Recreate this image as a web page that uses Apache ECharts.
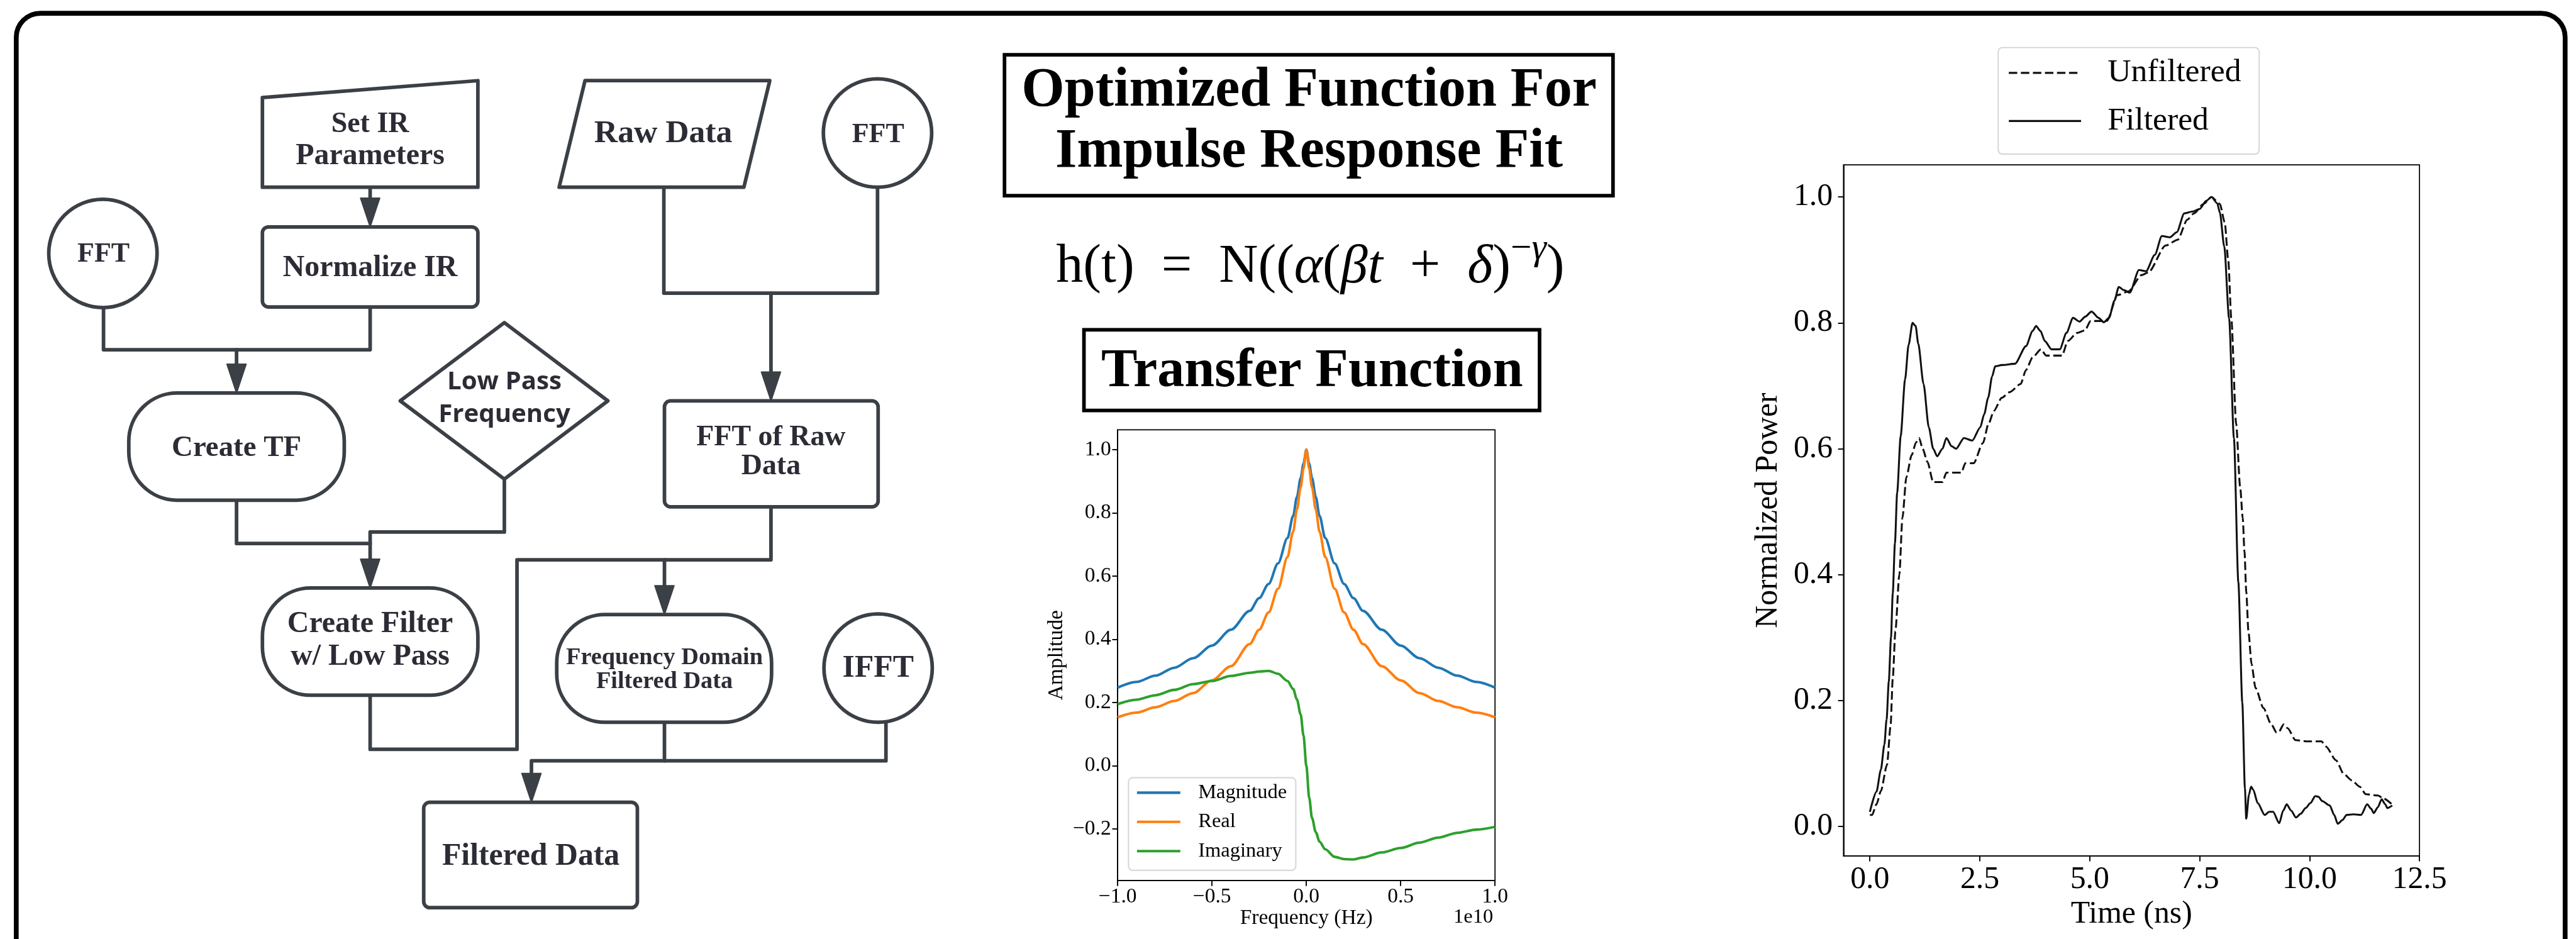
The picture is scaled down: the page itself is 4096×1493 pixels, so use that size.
<!DOCTYPE html>
<html>
<head>
<meta charset="utf-8">
<title>Impulse response fit pipeline</title>
<script src="https://cdn.jsdelivr.net/npm/echarts@6/dist/echarts.min.js"></script>
<style>
  html, body { margin: 0; padding: 0; background: #fff; }
  #chart { width: 4096px; height: 1493px; }
</style>
</head>
<body>
<div id="chart"></div>
<script>
// transfer function, frequency in units of 1e10 Hz
const freq = [-1, -0.9, -0.8, -0.7, -0.6, -0.5, -0.4, -0.3, -0.25, -0.2, -0.15, -0.1, -0.07, -0.05, -0.03, -0.015, 0,
  0.015, 0.03, 0.05, 0.07, 0.1, 0.15, 0.2, 0.25, 0.3, 0.4, 0.5, 0.6, 0.7, 0.8, 0.9, 1];
const magnitude = [0.247, 0.265, 0.285, 0.31, 0.34, 0.38, 0.43, 0.49, 0.53, 0.575, 0.64, 0.72, 0.79, 0.85, 0.91, 0.955, 1.0,
  0.955, 0.91, 0.85, 0.79, 0.72, 0.64, 0.575, 0.53, 0.49, 0.43, 0.38, 0.34, 0.31, 0.285, 0.265, 0.247];
const realPart = [0.153, 0.168, 0.185, 0.205, 0.23, 0.27, 0.315, 0.385, 0.43, 0.485, 0.56, 0.66, 0.74, 0.81, 0.88, 0.94, 1.0,
  0.94, 0.88, 0.81, 0.74, 0.66, 0.56, 0.485, 0.43, 0.385, 0.315, 0.27, 0.23, 0.205, 0.185, 0.168, 0.153];
const imagPart = [0.195, 0.209, 0.223, 0.24, 0.258, 0.268, 0.284, 0.294, 0.298, 0.3, 0.291, 0.268, 0.243, 0.21, 0.162, 0.095, 0,
  -0.1, -0.165, -0.21, -0.24, -0.264, -0.288, -0.295, -0.296, -0.29, -0.274, -0.26, -0.243, -0.227, -0.212, -0.202, -0.193];
const freqTicks = [-1, -0.5, 0, 0.5, 1];
const ampTicks = [-0.2, 0, 0.2, 0.4, 0.6, 0.8, 1.0];

// pulse, time in ns
const unfilteredT = [0, 0.05, 0.15, 0.25, 0.39, 0.47, 0.52, 0.58, 0.67, 0.74, 0.83, 0.95, 1.05, 1.12, 1.2, 1.31, 1.44, 1.65,
  1.74, 2.08, 2.17, 2.36, 2.57, 2.7, 2.82, 3.0, 3.18, 3.43, 3.55, 3.7, 3.89, 4.01, 4.37, 4.5, 4.71, 4.89, 5.02, 5.39, 5.63,
  5.88, 6.18, 6.33, 6.73, 7.0, 7.22, 7.37, 7.59, 7.77, 7.96, 8.07, 8.15, 8.22, 8.33, 8.42, 8.48, 8.52, 8.56, 8.61, 8.68,
  8.77, 8.95, 9.13, 9.25, 9.3, 9.41, 9.5, 9.68, 9.95, 10.27, 10.37, 10.6, 10.78, 10.96, 11.14, 11.28, 11.55, 11.69, 11.87];
const unfilteredP = [0.018, 0.018, 0.035, 0.056, 0.098, 0.159, 0.235, 0.31, 0.40, 0.49, 0.555, 0.59, 0.61, 0.617, 0.6, 0.579,
  0.547, 0.547, 0.562, 0.562, 0.577, 0.577, 0.609, 0.64, 0.66, 0.681, 0.69, 0.703, 0.725, 0.745, 0.758, 0.748, 0.748, 0.771,
  0.784, 0.788, 0.803, 0.803, 0.844, 0.85, 0.876, 0.88, 0.923, 0.932, 0.964, 0.974, 0.989, 1.0, 0.989, 0.96, 0.9, 0.807,
  0.64, 0.54, 0.49, 0.436, 0.373, 0.309, 0.258, 0.22, 0.188, 0.162, 0.149, 0.15, 0.162, 0.156, 0.137, 0.135, 0.135, 0.127,
  0.105, 0.083, 0.073, 0.063, 0.051, 0.049, 0.044, 0.035];
const filteredT = [0, 0.15, 0.25, 0.33, 0.38, 0.43, 0.48, 0.52, 0.57, 0.62, 0.7, 0.8, 0.88, 0.97, 1.04, 1.1, 1.22, 1.34,
  1.44, 1.53, 1.65, 1.74, 1.86, 1.96, 2.14, 2.33, 2.51, 2.6, 2.69, 2.78, 2.85, 3.0, 3.3, 3.55, 3.7, 3.78, 3.88, 3.98, 4.13,
  4.32, 4.47, 4.62, 4.77, 4.9, 5.04, 5.2, 5.32, 5.44, 5.56, 5.66, 5.78, 5.91, 6.12, 6.28, 6.48, 6.64, 6.82, 6.98, 7.15, 7.34,
  7.5, 7.65, 7.77, 7.9, 7.96, 8.06, 8.17, 8.28, 8.38, 8.47, 8.53, 8.56, 8.62, 8.67, 8.72, 8.82, 8.98, 9.08, 9.17, 9.31, 9.4,
  9.48, 9.58, 9.69, 9.8, 9.91, 10.02, 10.13, 10.2, 10.29, 10.46, 10.56, 10.64, 10.75, 10.84, 11.0, 11.17, 11.31, 11.4,
  11.46, 11.55, 11.64, 11.72, 11.77, 11.88];
const filteredP = [0.023, 0.055, 0.09, 0.13, 0.17, 0.23, 0.3, 0.37, 0.45, 0.53, 0.62, 0.71, 0.765, 0.8, 0.795, 0.767, 0.703,
  0.634, 0.6, 0.588, 0.6, 0.617, 0.604, 0.6, 0.617, 0.613, 0.634, 0.655, 0.681, 0.715, 0.731, 0.733, 0.735, 0.763, 0.787,
  0.795, 0.787, 0.771, 0.758, 0.758, 0.784, 0.808, 0.802, 0.81, 0.818, 0.808, 0.801, 0.808, 0.835, 0.857, 0.852, 0.848,
  0.884, 0.882, 0.908, 0.938, 0.936, 0.944, 0.974, 0.977, 0.981, 0.994, 1.0, 0.99, 0.975, 0.921, 0.807, 0.616, 0.388, 0.197,
  0.06, 0.012, 0.05, 0.063, 0.058, 0.037, 0.018, 0.023, 0.023, 0.005, 0.025, 0.035, 0.025, 0.014, 0.02, 0.029, 0.037,
  0.048, 0.047, 0.04, 0.033, 0.018, 0.004, 0.01, 0.018, 0.019, 0.018, 0.035, 0.028, 0.021, 0.03, 0.043, 0.035, 0.029, 0.033];
const timeTicks = [0, 2.5, 5, 7.5, 10, 12.5];
const powerTicks = [0, 0.2, 0.4, 0.6, 0.8, 1.0];

// everything below is laid out in reference pixels and scaled down
const K = 0.957;
const s = v => v * K;
const INK = '#3b4046';
const TXT = '#2b2c35';
const LW = s(6);
const SERIF = '"Liberation Serif", "Times New Roman", serif';
const SANS = 'bold SIZEpx "Open Sans", "Noto Sans", sans-serif';

function zip(xs, ys) { return xs.map((x, i) => [x, ys[i]]); }
function fmt1(v) { return (v < 0 ? '\u2212' : '') + Math.abs(v).toFixed(1); }

function box(x, y, w, h, r) {
  return { type: 'rect', shape: { x: s(x), y: s(y), width: s(w), height: s(h), r: s(r) },
    style: { fill: '#fff', stroke: INK, lineWidth: LW } };
}
function circ(cx, cy, r) {
  return { type: 'circle', shape: { cx: s(cx), cy: s(cy), r: s(r) }, style: { fill: '#fff', stroke: INK, lineWidth: LW } };
}
function poly(pts) {
  return { type: 'polygon', shape: { points: pts.map(p => [s(p[0]), s(p[1])]) },
    style: { fill: '#fff', stroke: INK, lineWidth: LW, lineJoin: 'round' } };
}
function wire(pts) {
  return { type: 'polyline', shape: { points: pts.map(p => [s(p[0]), s(p[1])]) },
    style: { fill: null, stroke: INK, lineWidth: LW, lineJoin: 'round', lineCap: 'round' } };
}
function arrow(x, tip) {
  return { type: 'polygon', shape: { points: [[s(x - 16), s(tip - 48)], [s(x + 16), s(tip - 48)], [s(x), s(tip)]] },
    style: { fill: INK, stroke: INK, lineWidth: s(2), lineJoin: 'round' } };
}
function label(text, x, y, size, font) {
  return { type: 'text', style: { text: text, x: s(x), y: s(y), textAlign: 'center', textVerticalAlign: 'middle',
    font: (font || ('bold SIZEpx ' + SERIF)).replace('SIZE', s(size)), fill: TXT } };
}
function plain(text, x, y, size) {
  return { type: 'text', style: { text: text, x: s(x), y: s(y), textAlign: 'center', textVerticalAlign: 'middle',
    font: 'bold ' + s(size) + 'px ' + SERIF, fill: '#000' } };
}

const flow = [
  // connectors first so the shapes cover their ends
  wire([[172, 510], [172, 581], [615, 581], [615, 510]]),
  wire([[393, 581], [393, 610]]), arrow(393, 653),
  wire([[615, 311], [615, 332]]), arrow(615, 377),
  wire([[393, 831], [393, 903], [615, 903]]),
  wire([[838, 796], [838, 884], [615, 884], [615, 932]]), arrow(615, 977),
  wire([[615, 1155], [615, 1245], [859, 1245], [859, 930], [1104, 930]]),
  wire([[1281, 842], [1281, 930], [1104, 930], [1104, 976]]), arrow(1104, 1021),
  wire([[1103, 311], [1103, 487], [1458, 487], [1458, 311]]),
  wire([[1281, 487], [1281, 620]]), arrow(1281, 666),
  wire([[1104, 1200], [1104, 1264]]),
  wire([[1472, 1200], [1472, 1264], [883, 1264], [883, 1288]]), arrow(883, 1333),

  poly([[436, 162], [794, 134], [794, 311], [436, 311]]),
  box(436, 377, 358, 133, 10),
  circ(171, 421, 90),
  box(214, 653, 358, 178, 80),
  poly([[838, 536], [1010, 666], [838, 796], [665, 666]]),
  box(436, 977, 358, 178, 80),
  poly([[972, 134], [1279, 134], [1236, 311], [929, 311]]),
  circ(1458, 221, 90),
  box(1104, 666, 355, 176, 10),
  box(925, 1021, 357, 179, 80),
  circ(1459, 1110, 90),
  box(704, 1333, 355, 175, 10),

  label('Set IR', 615, 207, 48),
  label('Parameters', 615, 260, 50),
  label('Normalize IR', 615, 446, 50),
  label('FFT', 172, 423, 46),
  label('Create TF', 393, 745, 49),
  label('Low Pass', 838, 635, 42, SANS),
  label('Frequency', 838, 689, 42, SANS),
  label('Raw Data', 1102, 222, 54),
  label('FFT', 1459, 224, 46),
  label('FFT of Raw', 1281, 727, 48),
  label('Data', 1281, 775, 48),
  label('Create Filter', 615, 1037, 50),
  label('w/ Low Pass', 615, 1092, 50),
  label('Frequency Domain', 1104, 1093, 40),
  label('Filtered Data', 1104, 1133, 40),
  label('IFFT', 1459, 1111, 52),
  label('Filtered Data', 882, 1423, 52)
];

const middle = [
  { type: 'rect', shape: { x: s(1669), y: s(91), width: s(1011), height: s(234) },
    style: { fill: '#fff', stroke: '#000', lineWidth: s(6) } },
  plain('Optimized Function For', 2175, 152, 92),
  plain('Impulse Response Fit', 2175, 253, 92),
  { type: 'text', style: {
      text: '{r|h(t)  =  N((}{i|\u03b1}{r|(}{i|\u03b2t}{r|  +  }{i|\u03b4}{r|)}{um|\u2212}{ui|\u03b3}{r|)}',
      x: s(2177), y: s(445), textAlign: 'center', textVerticalAlign: 'middle', fill: '#000',
      rich: {
        r: { fontFamily: SERIF, fontSize: s(90), lineHeight: s(124), verticalAlign: 'middle', fill: '#000' },
        i: { fontFamily: SERIF, fontStyle: 'italic', fontSize: s(90), lineHeight: s(124), verticalAlign: 'middle', fill: '#000' },
        um: { fontFamily: SERIF, fontSize: s(62), lineHeight: s(62), verticalAlign: 'top', fill: '#000' },
        ui: { fontFamily: SERIF, fontStyle: 'italic', fontSize: s(62), lineHeight: s(62), verticalAlign: 'top', fill: '#000' }
      } } },
  { type: 'rect', shape: { x: s(1801), y: s(548), width: s(757), height: s(134) },
    style: { fill: '#fff', stroke: '#000', lineWidth: s(6) } },
  plain('Transfer Function', 2180, 618, 90),
  { type: 'text', style: { text: '1e10', x: s(2481), y: s(1524), textAlign: 'right', textVerticalAlign: 'middle',
    font: s(34) + 'px ' + SERIF, fill: '#000' } }
];

const frame = {
  type: 'rect', shape: { x: s(27), y: s(22), width: s(4235), height: s(1600), r: s(40) },
  style: { fill: null, stroke: '#000', lineWidth: s(8) }
};

function valueAxis(grid, min, max, ticks, fontSize, margin, name, nameGap, extra) {
  return Object.assign({
    gridIndex: grid, type: 'value', min: min, max: max,
    axisLine: { show: true, onZero: false, lineStyle: { color: '#000', width: s(1.8) } },
    axisTick: { show: true, inside: false, length: s(9), customValues: ticks, lineStyle: { color: '#000', width: s(2) } },
    axisLabel: { customValues: ticks, formatter: fmt1, fontFamily: SERIF, fontSize: s(fontSize), color: '#000', margin: s(margin) },
    splitLine: { show: false },
    name: name, nameLocation: 'middle', nameGap: s(nameGap),
    nameTextStyle: { fontFamily: SERIF, fontSize: s(fontSize), color: '#000' }
  }, extra || {});
}

function legendBox(names, left, top, itemW, fontSize, lineH, gap, pad, lineW) {
  return {
    data: names, orient: 'vertical', left: s(left), top: s(top), selectedMode: false,
    itemWidth: s(itemW), itemHeight: s(14), itemGap: s(gap), padding: pad.map(s),
    itemStyle: { opacity: 0 },
    lineStyle: { width: s(lineW) },
    backgroundColor: '#fff', borderColor: '#d4d4d4', borderWidth: s(2), borderRadius: s(7),
    textStyle: { fontFamily: SERIF, fontSize: s(fontSize), lineHeight: s(lineH), color: '#000', padding: [0, 0, 0, s(fontSize * 0.72)] }
  };
}

const chart = echarts.init(document.getElementById('chart'));
chart.setOption({
  animation: false,
  backgroundColor: '#fff',
  grid: [
    { left: s(1857), top: s(714), width: s(627), height: s(749), show: true, borderColor: '#000', borderWidth: s(1.8) },
    { left: s(3063), top: s(274), width: s(957), height: s(1148), show: true, borderColor: '#000', borderWidth: s(1.8) }
  ],
  xAxis: [
    valueAxis(0, -1, 1, freqTicks, 35, 10, 'Frequency (Hz)', 46),
    valueAxis(1, -0.6, 12.5, timeTicks, 52, 14, 'Time (ns)', 71)
  ],
  yAxis: [
    valueAxis(0, -0.363, 1.0625, ampTicks, 35, 11, 'Amplitude', 84, { nameRotate: 90 }),
    valueAxis(1, -0.047, 1.051, powerTicks, 52, 18, 'Normalized Power', 99, { nameRotate: 90 })
  ],
  legend: [
    legendBox(['Magnitude', 'Real', 'Imaginary'], 1875, 1292, 72, 34, 36, 12.5, [7, 15, 14, 12], 4.2),
    legendBox(['Unfiltered', 'Filtered'], 3320, 79, 120, 54, 56, 24, [14, 30, 27, 16], 3.4)
  ],
  series: [
    { name: 'Magnitude', type: 'line', xAxisIndex: 0, yAxisIndex: 0, data: zip(freq, magnitude), symbol: 'none',
      smooth: 0.3, smoothMonotone: 'x', lineStyle: { color: '#1f77b4', width: s(4.2) }, itemStyle: { color: '#1f77b4' } },
    { name: 'Real', type: 'line', xAxisIndex: 0, yAxisIndex: 0, data: zip(freq, realPart), symbol: 'none',
      smooth: 0.3, smoothMonotone: 'x', lineStyle: { color: '#ff7f0e', width: s(4.2) }, itemStyle: { color: '#ff7f0e' } },
    { name: 'Imaginary', type: 'line', xAxisIndex: 0, yAxisIndex: 0, data: zip(freq, imagPart), symbol: 'none',
      smooth: 0.3, smoothMonotone: 'x', lineStyle: { color: '#2ca02c', width: s(4.2) }, itemStyle: { color: '#2ca02c' } },
    { name: 'Unfiltered', type: 'line', xAxisIndex: 1, yAxisIndex: 1, data: zip(unfilteredT, unfilteredP), symbol: 'none',
      smooth: 0.25, smoothMonotone: 'x', lineStyle: { color: '#111', width: s(3.2), type: [s(14), s(6)] }, itemStyle: { color: '#111' } },
    { name: 'Filtered', type: 'line', xAxisIndex: 1, yAxisIndex: 1, data: zip(filteredT, filteredP), symbol: 'none',
      smooth: 0.25, smoothMonotone: 'x', lineStyle: { color: '#111', width: s(3.2) }, itemStyle: { color: '#111' } }
  ],
  graphic: { elements: [frame].concat(flow, middle) }
});
</script>
</body>
</html>
